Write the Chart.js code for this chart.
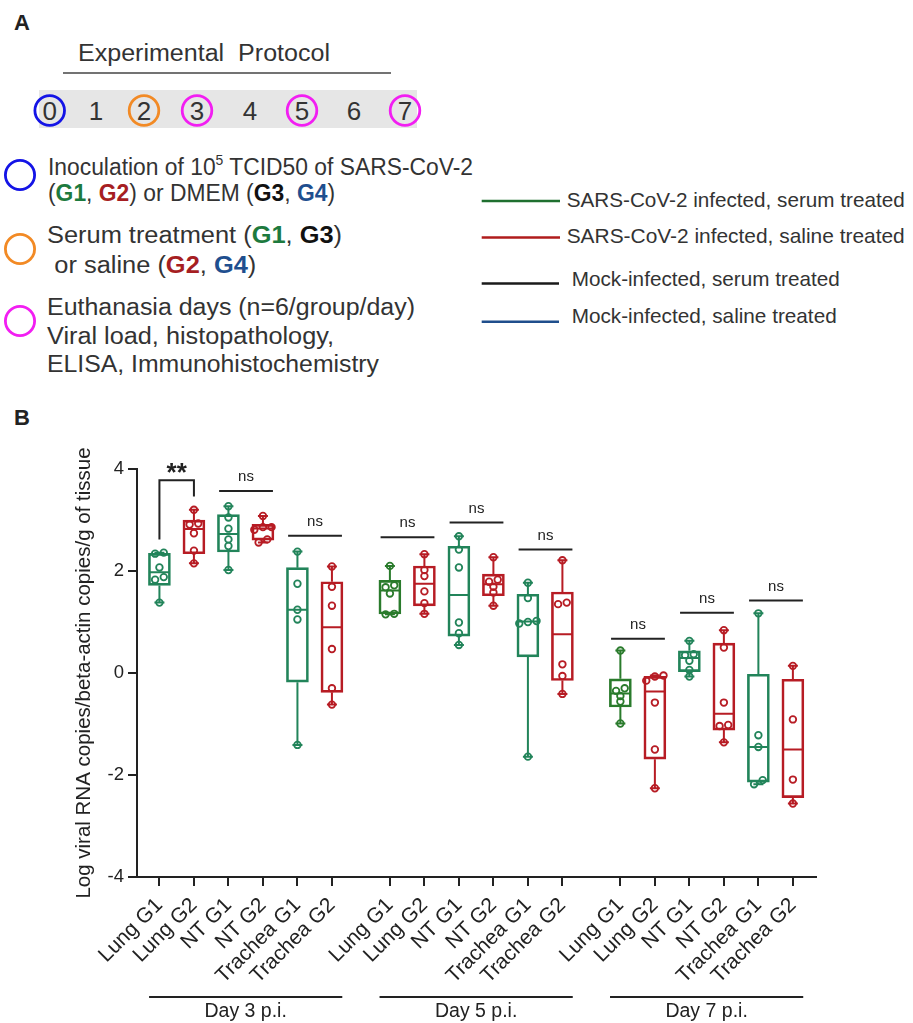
<!DOCTYPE html>
<html>
<head>
<meta charset="utf-8">
<script src="https://cdn.jsdelivr.net/npm/chart.js@4.4.1/dist/chart.umd.min.js"></script>
<style>
    html, body { margin: 0; padding: 0; background: #fff; }
    body { width: 913px; height: 1023px; position: relative; overflow: hidden; }
    #panelA { position: absolute; left: 0; top: 0; }
    #wrap { position: absolute; left: 0; top: 380px; width: 913px; height: 643px; }
</style>
</head>
<body>
<svg id="panelA" width="913" height="440" xmlns="http://www.w3.org/2000/svg" font-family="'Liberation Sans', Arial, sans-serif" fill="#333">
    <text x="14" y="30" font-size="22" font-weight="bold" fill="#222">A</text>
    <text x="78" y="61" font-size="23" xml:space="preserve" textLength="252" lengthAdjust="spacingAndGlyphs">Experimental  Protocol</text>
    <line x1="63" y1="73" x2="391" y2="73" stroke="#444" stroke-width="1.5"/>
    <rect x="39" y="90" width="378" height="38" fill="#e6e6e6"/>
    <g fill="none" stroke-width="2.8">
        <circle cx="49.7" cy="110.5" r="14.8" stroke="#1414e6"/>
        <circle cx="144" cy="110.5" r="14.8" stroke="#f28a25"/>
        <circle cx="197" cy="110.5" r="14.8" stroke="#f21ef2"/>
        <circle cx="302" cy="110.5" r="14.8" stroke="#f21ef2"/>
        <circle cx="405" cy="110.5" r="14.8" stroke="#f21ef2"/>
    </g>
    <g font-size="26" text-anchor="middle">
        <text x="49.7" y="119.5">0</text>
        <text x="96" y="119.5">1</text>
        <text x="144" y="119.5">2</text>
        <text x="197" y="119.5">3</text>
        <text x="250" y="119.5">4</text>
        <text x="302" y="119.5">5</text>
        <text x="354" y="119.5">6</text>
        <text x="405" y="119.5">7</text>
    </g>

    <g fill="none" stroke-width="2.8">
        <circle cx="20" cy="175" r="14.6" stroke="#1414e6"/>
        <circle cx="20" cy="249" r="14.6" stroke="#f28a25"/>
        <circle cx="20" cy="321" r="14.6" stroke="#f21ef2"/>
    </g>
    <g font-size="23">
        <text x="48" y="175" textLength="425" lengthAdjust="spacingAndGlyphs">Inoculation of 10<tspan font-size="14" dy="-10">5</tspan><tspan dy="10"> TCID50 of SARS-CoV-2</tspan></text>
        <text x="48" y="200.5" textLength="287" lengthAdjust="spacingAndGlyphs">(<tspan font-weight="bold" fill="#1d7a3e">G1</tspan>, <tspan font-weight="bold" fill="#a61e22">G2</tspan>) or DMEM (<tspan font-weight="bold" fill="#111">G3</tspan>, <tspan font-weight="bold" fill="#1f4f8f">G4</tspan>)</text>
        <text x="47" y="242.5" textLength="295" lengthAdjust="spacingAndGlyphs">Serum treatment (<tspan font-weight="bold" fill="#1d7a3e">G1</tspan>, <tspan font-weight="bold" fill="#111">G3</tspan>)</text>
        <text x="54.3" y="272.5" textLength="202" lengthAdjust="spacingAndGlyphs">or saline (<tspan font-weight="bold" fill="#a61e22">G2</tspan>, <tspan font-weight="bold" fill="#1f4f8f">G4</tspan>)</text>
        <text x="47" y="315" textLength="368" lengthAdjust="spacingAndGlyphs">Euthanasia days (n=6/group/day)</text>
        <text x="47" y="343.5" textLength="287" lengthAdjust="spacingAndGlyphs">Viral load, histopathology,</text>
        <text x="47" y="372" textLength="332" lengthAdjust="spacingAndGlyphs">ELISA, Immunohistochemistry</text>
    </g>

    <g stroke-width="2.5">
        <line x1="481.7" y1="201" x2="560" y2="201" stroke="#1f6f2f"/>
        <line x1="481.7" y1="237.5" x2="560" y2="237.5" stroke="#b01c1c"/>
        <line x1="481.7" y1="283.5" x2="559" y2="283.5" stroke="#1a1a1a"/>
        <line x1="481.7" y1="321.7" x2="559" y2="321.7" stroke="#1f4e8c"/>
    </g>
    <g font-size="21">
        <text x="566.7" y="207" textLength="338" lengthAdjust="spacingAndGlyphs">SARS-CoV-2 infected, serum treated</text>
        <text x="566.7" y="243" textLength="338" lengthAdjust="spacingAndGlyphs">SARS-CoV-2 infected, saline treated</text>
        <text x="571.7" y="285.5" textLength="268" lengthAdjust="spacingAndGlyphs">Mock-infected, serum treated</text>
        <text x="571.7" y="323" textLength="265" lengthAdjust="spacingAndGlyphs">Mock-infected, saline treated</text>
    </g>

    <text x="14" y="425" font-size="22" font-weight="bold" fill="#222">B</text>
</svg>
<div id="wrap"><canvas id="chart" width="913" height="643"></canvas></div>
<script>
const tissues = ['Lung G1', 'Lung G2', 'NT G1', 'NT G2', 'Trachea G1', 'Trachea G2']
const days = ['Day 3 p.i.', 'Day 5 p.i.', 'Day 7 p.i.']
const yTicks = [-4, -2, 0, 2, 4]

// log viral RNA per animal, one list per box
const day3 = [
    [1.38, 1.83, 1.88, 2.07, 2.34, 2.36],
    [2.15, 2.40, 2.74, 2.91, 2.93, 3.20],
    [2.02, 2.49, 2.62, 2.83, 3.05, 3.27],
    [2.56, 2.62, 2.81, 2.86, 2.86, 3.08],
    [-1.41, 1.05, 1.24, 1.75, 2.38],
    [-0.62, -0.30, 0.47, 1.32, 1.69, 2.09],
]
const day5 = [
    [1.15, 1.16, 1.56, 1.68, 1.72, 2.10],
    [1.16, 1.37, 1.60, 1.90, 2.02, 2.33],
    [0.55, 0.78, 0.99, 2.07, 2.42, 2.68],
    [1.32, 1.58, 1.69, 1.79, 1.83, 2.27],
    [-1.64, 0.97, 1.00, 1.02, 1.47, 1.77],
    [-0.41, -0.06, 0.17, 1.35, 1.38, 2.21],
]
const day7 = [
    [-0.99, -0.56, -0.45, -0.35, -0.30, 0.44],
    [-2.26, -1.50, -0.58, -0.15, -0.07, -0.05],
    [-0.07, 0.06, 0.24, 0.35, 0.37, 0.63],
    [-1.36, -1.04, -1.02, -0.58, 0.50, 0.84],
    [-2.18, -2.10, -1.45, -1.22, 1.17],
    [-2.56, -2.09, -0.91, 0.14],
]
// significance per day, for the Lung, NT and Trachea pairs
const sigText = [['**', 'ns', 'ns'], ['ns', 'ns', 'ns'], ['ns', 'ns', 'ns']]
const sigY = [[3.78, 3.57, 2.69], [2.66, 2.95, 2.42], [0.67, 1.18, 1.42]]

const TEAL = '#22845a'
const GREEN = '#2a7b2c'
const RED = '#b71c24'
const INK = '#222'
const GAP = 6.68   // distance between first boxes of two days, in x units
const FONT = '"Liberation Sans", Arial, sans-serif'

// quartiles the way Prism does them (n+1 method)
function quant(s, p) {
    const h = p * (s.length + 1) - 1
    const lo = Math.floor(h)
    if (lo < 0) return s[0]
    if (lo >= s.length - 1) return s[s.length - 1]
    return s[lo] + (h - lo) * (s[lo + 1] - s[lo])
}

// side-by-side offsets for dots that would sit on top of each other
function spread(s) {
    const offs = s.map(() => 0)
    let start = 0
    for (let i = 1; i <= s.length; i++) {
        if (i === s.length || s[i] - s[i - 1] > 0.09) {
            const m = i - start
            for (let k = 0; k < m; k++) offs[start + k] = (k - (m - 1) / 2) * 0.25
            start = i
        }
    }
    return offs
}

const boxes = []
const groups = [day3, day5, day7]
groups.forEach((group, d) => {
    group.forEach((vals, j) => {
        const s = [...vals].sort((a, b) => a - b)
        let color = j % 2 ? RED : TEAL
        if (j === 0 && d > 0) color = GREEN
        boxes.push({
            x: d * GAP + j, s, color,
            min: s[0], q1: quant(s, 0.25), med: quant(s, 0.5), q3: quant(s, 0.75), max: s[s.length - 1],
        })
    })
})

const dots = []
const dotColors = []
for (const b of boxes) {
    const offs = spread(b.s)
    b.s.forEach((v, k) => {
        dots.push({x: b.x + offs[k], y: v})
        dotColors.push(b.color)
    })
}

const boxParts = {
    id: 'boxParts',
    beforeDatasetsDraw(chart) {
        const {ctx, scales: {x, y}} = chart
        ctx.save()
        ctx.lineWidth = 2
        for (const b of boxes) {
            const px = x.getPixelForValue(b.x)
            const yMin = y.getPixelForValue(b.min)
            const yMax = y.getPixelForValue(b.max)
            const yMed = y.getPixelForValue(b.med)
            ctx.strokeStyle = b.color
            ctx.beginPath()
            ctx.moveTo(px, yMax)
            ctx.lineTo(px, y.getPixelForValue(b.q3))
            ctx.moveTo(px, y.getPixelForValue(b.q1))
            ctx.lineTo(px, yMin)
            ctx.moveTo(px - 5, yMin)
            ctx.lineTo(px + 5, yMin)
            ctx.moveTo(px - 5, yMax)
            ctx.lineTo(px + 5, yMax)
            ctx.moveTo(px - 10, yMed)
            ctx.lineTo(px + 10, yMed)
            ctx.stroke()
        }
        ctx.restore()
    },
    afterDraw(chart) {
        const {ctx, chartArea, scales: {x, y}} = chart
        ctx.save()
        ctx.strokeStyle = INK
        ctx.fillStyle = INK
        ctx.lineWidth = 2
        ctx.textAlign = 'center'
        days.forEach((day, d) => {
            sigText[d].forEach((txt, k) => {
                const a = boxes[d * 6 + k * 2]
                const b = boxes[d * 6 + k * 2 + 1]
                const yy = y.getPixelForValue(sigY[d][k])
                ctx.beginPath()
                if (txt === '**') {
                    const xl = x.getPixelForValue(a.x)
                    const xr = x.getPixelForValue(b.x)
                    ctx.moveTo(xl, y.getPixelForValue(a.max + 0.26))
                    ctx.lineTo(xl, yy)
                    ctx.lineTo(xr, yy)
                    ctx.lineTo(xr, y.getPixelForValue(b.max + 0.26))
                    ctx.stroke()
                    ctx.font = 'bold 26px ' + FONT
                    ctx.fillText(txt, (xl + xr) / 2, yy + 1)
                } else {
                    const xl = x.getPixelForValue(a.x - 0.27)
                    const xr = x.getPixelForValue(b.x + 0.29)
                    ctx.moveTo(xl, yy)
                    ctx.lineTo(xr, yy)
                    ctx.stroke()
                    ctx.font = '15px ' + FONT
                    ctx.fillText(txt, (xl + xr) / 2, yy - 10)
                }
            })
            // day bracket under the category labels
            const xl = x.getPixelForValue(d * GAP - 0.3)
            const xr = x.getPixelForValue(d * GAP + 5.3)
            const ly = chartArea.bottom + 120
            ctx.beginPath()
            ctx.moveTo(xl, ly)
            ctx.lineTo(xr, ly)
            ctx.stroke()
            ctx.font = '19.5px ' + FONT
            ctx.textBaseline = 'top'
            ctx.fillText(day, (xl + xr) / 2, ly + 5)
            ctx.textBaseline = 'alphabetic'
        })
        ctx.restore()
    }
}

Chart.defaults.font.family = FONT
Chart.defaults.color = INK

const ctx = document.getElementById('chart').getContext('2d')
const chart = new Chart(ctx, {
    type: 'bar',
    data: {
        datasets: [{
            type: 'scatter',
            data: dots,
            order: 0,
            pointRadius: 3.3,
            pointBorderWidth: 1.8,
            pointBorderColor: dotColors,
            pointBackgroundColor: 'rgba(0,0,0,0)',
        }, {
            type: 'bar',
            data: boxes.map(b => ({x: b.x, y: [b.q1, b.q3]})),
            order: 1,
            borderColor: boxes.map(b => b.color),
            backgroundColor: 'rgba(0,0,0,0)',
            borderWidth: 2,
            borderSkipped: false,
            barThickness: 22,
        }]
    },
    options: {
        responsive: false,
        animation: false,
        layout: { padding: { left: 60, right: 97, top: 89, bottom: 0 } },
        plugins: { legend: { display: false }, tooltip: { enabled: false } },
        scales: {
            x: {
                type: 'linear',
                min: -0.65,
                max: 19.03,
                offset: false,
                afterBuildTicks: s => { s.ticks = boxes.map(b => ({ value: b.x })) },
                afterFit: s => { s.height = 146 },
                ticks: {
                    autoSkip: false,
                    minRotation: 45,
                    maxRotation: 45,
                    padding: 7,
                    font: { size: 21 },
                    callback: (v, i) => tissues[i % 6],
                },
                grid: { offset: false, drawOnChartArea: false, tickLength: 9, color: INK, lineWidth: 2 },
                border: { color: INK, width: 2 },
            },
            y: {
                min: -4,
                max: 4,
                afterBuildTicks: s => { s.ticks = yTicks.map(v => ({ value: v })) },
                afterFit: s => { s.width = 77 },
                ticks: { font: { size: 18.5 }, padding: 4 },
                grid: { drawOnChartArea: false, tickLength: 9, color: INK, lineWidth: 2 },
                border: { color: INK, width: 2 },
                title: {
                    display: true,
                    text: 'Log viral RNA copies/beta-actin copies/g of tissue',
                    font: { size: 20.5 },
                    padding: { top: 12, bottom: 0 },
                },
            },
        },
    },
    plugins: [boxParts],
})
</script>
</body>
</html>
